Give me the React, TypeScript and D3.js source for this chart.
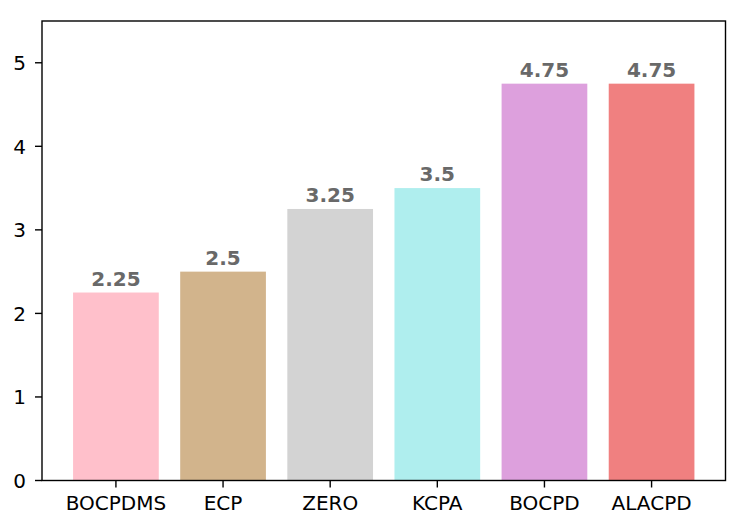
import React from "react";
import * as d3 from "d3";

const categories = ["BOCPDMS", "ECP", "ZERO", "KCPA", "BOCPD", "ALACPD"];
const values = [2.25, 2.5, 3.25, 3.5, 4.75, 4.75];
const labels = ["2.25", "2.5", "3.25", "3.5", "4.75", "4.75"];
const colors = ["#FFC0CB", "#D2B48C", "#D3D3D3", "#AFEEEE", "#DDA0DD", "#F08080"];
const yTicks = [0, 1, 2, 3, 4, 5];

const W = 748, H = 529;
const L = 42, R = 725.5, T = 21, B = 480.5;

export default function App() {
  const x = d3.scaleLinear().domain([-0.69, 5.69]).range([L, R]);
  const y = d3.scaleLinear().domain([0, 5.5]).range([B, T]);
  const bw = x(0.8) - x(0);
  const font = "'DejaVu Sans', sans-serif";
  const fs = 20;
  return (
    <svg width={W} height={H} style={{ position: "absolute", left: 0, top: 0 }}>
      <rect x={0} y={0} width={W} height={H} fill="white" />
      {values.map((v, i) => (
        <rect key={i} x={x(i) - bw / 2} y={y(v)} width={bw} height={y(0) - y(v)} fill={colors[i]} />
      ))}
      {values.map((v, i) => (
        <text key={"l" + i} x={x(i)} y={y(v) - 7} textAnchor="middle" fontFamily={font} fontWeight="bold" fontSize={fs} fill="#696969">
          {labels[i]}
        </text>
      ))}
      <rect x={L} y={T} width={R - L} height={B - T} fill="none" stroke="black" strokeWidth={1.4} />
      {yTicks.map((t) => (
        <g key={"y" + t}>
          <line x1={L - 7} x2={L} y1={y(t)} y2={y(t)} stroke="black" strokeWidth={1.4} />
          <text x={L - 16} y={y(t)} dy="0.36em" textAnchor="end" fontFamily={font} fontSize={fs} fill="black">{t}</text>
        </g>
      ))}
      {categories.map((c, i) => (
        <g key={"x" + i}>
          <line x1={x(i)} x2={x(i)} y1={B} y2={B + 7} stroke="black" strokeWidth={1.4} />
          <text x={x(i)} y={510} textAnchor="middle" fontFamily={font} fontSize={fs} fill="black">{c}</text>
        </g>
      ))}
    </svg>
  );
}
